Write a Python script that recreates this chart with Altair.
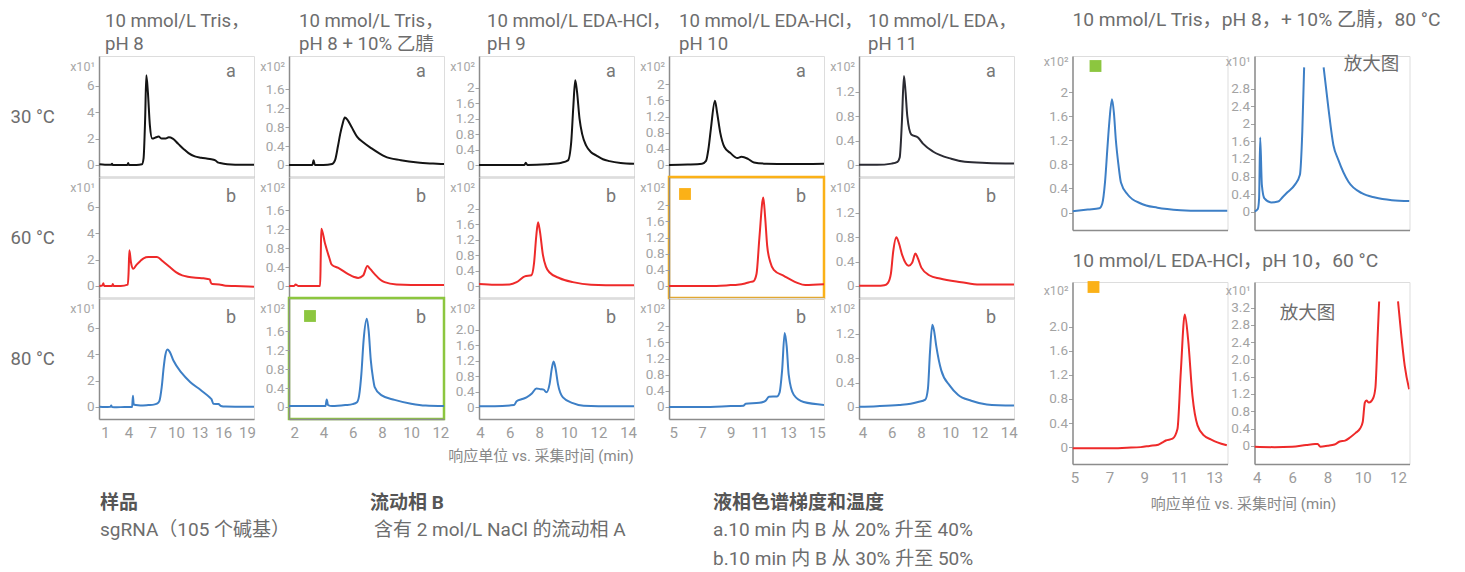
import altair as alt
import pandas as pd

FONT = "Roboto, 'Noto Sans CJK SC', sans-serif"
AX = "#8c8c8c"      # axis lines
LAB = "#a3a3a3"     # tick labels
X10C = "#a8a8a8"
TXT = "#6d6d6d"
ABC = "#777777"
BLACK = "#141414"
RED = "#ee2a2a"
BLUE = "#3d7fc6"
GREEN = "#8cc63f"
ORANGE = "#fbb117"

# ---------------- data (time in min, response in displayed axis units) -------------
# column 1: 10 mmol/L Tris, pH 8
T_C1R1 = [0.3, 1.0, 1.8, 1.9, 2.0, 3.0, 3.85, 3.95, 4.05, 5.0, 5.7, 5.9, 6.1, 6.25, 6.45, 6.7, 7.0, 7.5, 7.8, 8.2, 8.7, 9.1, 9.6, 10.3, 11.0, 11.6, 12.4, 13.2, 14.3, 15.0, 15.3, 15.6, 16.5, 17.5, 19.9]
V_C1R1 = [0.05, 0.02, 0.02, 0.1, 0.0, 0.0, 0.0, 0.15, 0.0, 0.0, 0.05, 0.5, 3.5, 6.8, 5.5, 3.0, 2.0, 2.1, 2.15, 2.0, 2.0, 2.1, 2.0, 1.6, 1.2, 0.9, 0.65, 0.55, 0.45, 0.35, 0.2, 0.15, 0.05, 0.02, 0.02]
T_C1R2 = [0.3, 0.7, 0.8, 0.9, 1.9, 2.0, 2.1, 3.0, 3.9, 4.0, 4.1, 4.3, 4.6, 5.0, 5.5, 5.9, 6.5, 7.0, 7.6, 8.3, 9.1, 10.0, 10.8, 11.5, 12.5, 13.5, 14.3, 14.4, 14.6, 15.5, 16.3, 17.5, 19.9]
V_C1R2 = [0.0, 0.05, 0.2, 0.0, 0.0, 0.15, 0.0, 0.0, 0.1, 1.0, 2.7, 1.8, 1.3, 1.6, 1.9, 2.1, 2.2, 2.2, 2.2, 1.9, 1.5, 1.05, 0.8, 0.7, 0.62, 0.58, 0.5, 0.3, 0.15, 0.12, 0.02, 0.0, -0.05]
T_C1R3 = [0.3, 1.0, 1.7, 1.8, 1.9, 2.5, 3.5, 4.45, 4.55, 4.65, 4.9, 5.5, 6.5, 7.2, 7.6, 7.9, 8.2, 8.45, 8.65, 8.93, 9.2, 9.7, 10.7, 11.8, 13.1, 14.3, 14.5, 14.75, 15.4, 15.7, 16.3, 17.5, 19.9]
V_C1R3 = [0.02, 0.0, 0.02, 0.12, 0.0, -0.02, 0.0, 0.0, 0.85, 0.2, 0.15, 0.12, 0.15, 0.18, 0.25, 0.45, 1.5, 3.0, 3.9, 4.35, 4.2, 3.5, 2.6, 1.9, 1.3, 0.72, 0.6, 0.25, 0.22, 0.08, 0.03, 0.02, 0.02]
# column 2: 10 mmol/L Tris, pH 8 + 10% ACN
T_C2R1 = [1.65, 2.5, 3.25, 3.33, 3.42, 4.0, 4.6, 4.8, 5.0, 5.15, 5.3, 5.47, 5.65, 5.93, 6.3, 6.72, 7.3, 7.8, 8.2, 9.3, 10.45, 11.5, 12.25]
V_C2R1 = [0.0, 0.0, 0.0, 0.1, 0.0, 0.0, 0.02, 0.1, 0.4, 0.65, 0.85, 1.0, 0.95, 0.8, 0.6, 0.48, 0.35, 0.25, 0.18, 0.1, 0.05, 0.03, 0.02]
T_C2R2 = [1.65, 2.0, 2.1, 2.3, 3.0, 3.78, 3.82, 3.86, 4.11, 4.4, 4.57, 5.02, 5.7, 6.1, 6.38, 6.72, 7.01, 7.2, 7.51, 7.9, 8.19, 9.0, 10.0, 12.25]
V_C2R2 = [0.0, 0.0, 0.03, 0.0, 0.0, 0.0, 0.6, 1.21, 0.9, 0.6, 0.45, 0.38, 0.25, 0.19, 0.17, 0.22, 0.42, 0.36, 0.25, 0.13, 0.08, 0.03, 0.02, 0.02]
T_C2R3 = [1.65, 3.0, 4.15, 4.23, 4.32, 4.6, 5.5, 6.0, 6.3, 6.45, 6.6, 6.75, 6.97, 7.1, 7.24, 7.4, 7.51, 7.96, 8.87, 10.0, 11.0, 12.25]
V_C2R3 = [0.02, 0.02, 0.02, 0.16, 0.04, 0.02, 0.04, 0.06, 0.1, 0.25, 0.7, 1.4, 1.86, 1.6, 1.0, 0.6, 0.42, 0.25, 0.15, 0.07, 0.03, 0.02]
# column 3: 10 mmol/L EDA-HCl, pH 9
T_C3R1 = [3.93, 5.0, 6.5, 7.0, 7.09, 7.2, 8.5, 9.5, 9.94, 10.16, 10.3, 10.43, 10.55, 10.72, 10.9, 11.17, 11.5, 11.84, 12.3, 12.74, 13.5, 14.4]
V_C3R1 = [0.0, 0.0, 0.0, 0.0, 0.06, 0.0, 0.02, 0.06, 0.12, 0.6, 1.5, 2.19, 1.9, 1.2, 0.8, 0.5, 0.33, 0.25, 0.15, 0.1, 0.05, 0.03]
T_C3R2 = [3.93, 5.0, 6.0, 6.47, 7.02, 7.47, 7.65, 7.8, 7.92, 8.05, 8.25, 8.45, 8.7, 9.38, 10.27, 11.5, 12.5, 14.4]
V_C3R2 = [0.05, 0.03, 0.04, 0.1, 0.25, 0.28, 0.6, 1.3, 1.65, 1.4, 0.8, 0.5, 0.35, 0.2, 0.1, 0.03, 0.02, 0.02]
T_C3R3 = [3.93, 5.0, 6.3, 6.47, 6.8, 7.14, 7.5, 7.81, 8.1, 8.3, 8.48, 8.7, 8.85, 8.97, 9.1, 9.26, 9.6, 10.27, 11.0, 12.0, 14.4]
V_C3R3 = [0.02, 0.02, 0.05, 0.15, 0.2, 0.25, 0.35, 0.48, 0.46, 0.45, 0.38, 0.6, 1.0, 1.18, 1.0, 0.6, 0.25, 0.1, 0.03, 0.02, 0.02]
# column 4: 10 mmol/L EDA-HCl, pH 10
T_C4R1 = [4.7, 6.0, 7.0, 7.28, 7.45, 7.62, 7.9, 8.05, 8.27, 8.55, 8.96, 9.47, 9.75, 10.2, 10.62, 11.5, 13.0, 15.5]
V_C4R1 = [0.0, 0.01, 0.03, 0.1, 0.4, 0.9, 1.59, 1.3, 0.8, 0.45, 0.3, 0.17, 0.2, 0.15, 0.06, 0.03, 0.02, 0.03]
T_C4R2 = [4.7, 6.0, 8.0, 9.0, 9.47, 10.0, 10.39, 10.6, 10.8, 11.0, 11.27, 11.4, 11.54, 11.75, 12.0, 12.7, 13.6, 14.2, 15.5]
V_C4R2 = [0.0, 0.0, 0.0, 0.02, 0.03, 0.06, 0.1, 0.12, 0.3, 1.2, 2.19, 1.7, 1.0, 0.6, 0.4, 0.25, 0.08, 0.02, 0.04]
T_C4R3 = [4.7, 7.0, 9.0, 9.9, 10.04, 11.0, 11.42, 11.66, 12.23, 12.4, 12.58, 12.76, 12.9, 13.04, 13.39, 14.08, 15.5]
V_C4R3 = [0.0, 0.0, 0.02, 0.03, 0.08, 0.1, 0.15, 0.25, 0.26, 0.35, 0.9, 1.83, 1.5, 0.8, 0.3, 0.12, 0.05]
# column 5: 10 mmol/L EDA, pH 11
T_C5R1 = [3.77, 5.0, 6.0, 6.4, 6.55, 6.7, 6.84, 6.95, 7.07, 7.34, 7.8, 8.14, 8.82, 10.07, 11.0, 12.5, 14.36]
V_C5R1 = [0.0, 0.0, 0.02, 0.05, 0.12, 0.7, 1.46, 1.2, 0.8, 0.5, 0.45, 0.35, 0.22, 0.1, 0.05, 0.03, 0.02]
T_C5R2 = [3.77, 5.0, 5.5, 5.75, 5.95, 6.1, 6.32, 6.5, 6.73, 7.16, 7.4, 7.62, 7.8, 8.03, 8.6, 9.3, 10.76, 12.0, 14.36]
V_C5R2 = [0.0, 0.0, 0.01, 0.05, 0.2, 0.55, 0.8, 0.7, 0.5, 0.33, 0.38, 0.53, 0.45, 0.3, 0.17, 0.12, 0.06, 0.02, 0.02]
T_C5R3 = [3.77, 5.0, 6.5, 7.3, 7.8, 8.3, 8.48, 8.62, 8.78, 8.9, 9.05, 9.39, 9.97, 10.53, 11.44, 12.5, 14.36]
V_C5R3 = [0.0, 0.01, 0.03, 0.05, 0.08, 0.12, 0.3, 0.9, 1.35, 1.25, 1.0, 0.6, 0.35, 0.2, 0.1, 0.04, 0.02]
# right block
T_R1 = [4.4, 5.43, 6.2, 6.4, 6.58, 6.75, 6.87, 7.05, 7.18, 7.31, 7.48, 7.65, 8.1, 8.98, 10.1, 11.65, 13.0, 14.8]
V_R1 = [0.02, 0.05, 0.07, 0.15, 0.5, 1.1, 1.5, 1.88, 1.65, 1.2, 0.8, 0.5, 0.3, 0.15, 0.08, 0.04, 0.03, 0.03]
T_R2A = [3.87, 4.05, 4.12, 4.18, 4.27, 4.41, 4.77, 5.15, 5.42, 5.66, 6.06, 6.34, 6.47, 6.57]
V_R2A = [0.0, 0.06, 0.3, 1.69, 0.61, 0.3, 0.21, 0.23, 0.34, 0.44, 0.61, 0.84, 1.83, 3.29]
T_R2B = [7.63, 7.89, 8.16, 8.43, 8.98, 9.71, 10.43, 11.34, 12.3]
V_R2B = [3.29, 2.36, 1.52, 1.18, 0.68, 0.42, 0.32, 0.26, 0.24]
T_R3 = [4.88, 6.0, 7.0, 8.0, 8.8, 9.3, 9.8, 10.05, 10.23, 10.62, 10.9, 11.09, 11.32, 11.51, 11.76, 12.05, 12.43, 12.81, 13.19, 13.73]
V_R3 = [-0.02, -0.02, -0.02, -0.01, 0.0, 0.02, 0.04, 0.08, 0.11, 0.14, 0.3, 1.24, 2.2, 1.79, 0.85, 0.36, 0.19, 0.13, 0.08, 0.03]
T_R4A = [3.87, 5.0, 6.0, 6.8, 7.3, 7.45, 7.6, 8.0, 8.4, 8.7, 9.0, 9.3, 9.6, 9.85, 10.0, 10.12, 10.21, 10.35, 10.59, 10.72, 10.84, 10.93]
V_R4A = [-0.02, -0.03, -0.02, 0.02, 0.04, 0.04, -0.02, 0.0, 0.03, 0.1, 0.12, 0.2, 0.3, 0.4, 0.55, 1.0, 1.05, 1.0, 1.1, 1.35, 2.47, 3.34]
T_R4B = [12.0, 12.19, 12.38, 12.63]
V_R4B = [3.34, 2.54, 1.85, 1.31]

# tick values
YT_C1 = [0, 2, 4, 6]
YT_C2 = [0, 0.4, 0.8, 1.2, 1.6]
YT_C34 = [0, 0.4, 0.8, 1.2, 1.6, 2]
YT_C5 = [0, 0.4, 0.8, 1.2]
YT_R2 = [0, 0.4, 0.8, 1.2, 1.6, 2, 2.4, 2.8]
YT_R4 = [0, 0.4, 0.8, 1.2, 1.6, 2, 2.4, 2.8, 3.2]
XT_C1 = [1, 4, 7, 10, 13, 16, 19]
XT_C2 = [2, 4, 6, 8, 10, 12]
XT_C3 = [4, 6, 8, 10, 12, 14]
XT_C4 = [5, 7, 9, 11, 13, 15]
XT_C5 = [4, 6, 8, 10, 12, 14]
XT_R3 = [5, 7, 9, 11, 13]
XT_R4 = [4, 6, 8, 10, 12]

COL_TITLES = [
    ["10 mmol/L Tris，", "pH 8"],
    ["10 mmol/L Tris，", "pH 8 + 10% 乙腈"],
    ["10 mmol/L EDA-HCl，", "pH 9"],
    ["10 mmol/L EDA-HCl，", "pH 10"],
    ["10 mmol/L EDA，", "pH 11"],
]
ROW_LABELS = ["30 °C", "60 °C", "80 °C"]


def txt(s, x, y, size, color, weight="normal", align="left", baseline="alphabetic"):
    return alt.Chart(alt.Data(values=[{"s": s}])).mark_text(
        align=align, baseline=baseline, fontSize=size, color=color,
        fontWeight=weight, font=FONT
    ).encode(x=alt.value(x), y=alt.value(y), text="s:N")


def sq(x, y, color):
    return alt.Chart(alt.Data(values=[{"s": 1}])).mark_square(
        size=140, color=color, opacity=1, filled=True
    ).encode(x=alt.value(x), y=alt.value(y))


def panel(T, V, color, xdom, ydom, yticks, xticks=None, w=155, h=121,
          extras=(), box=None, fmt1=False, seg=None):
    df = pd.DataFrame({"t": T, "v": V, "seg": seg if seg else [0] * len(T)})
    yax = dict(values=yticks, title=None, grid=False, labelFontSize=13.5,
               labelColor=LAB, tickSize=4, tickColor=LAB, labelPadding=1,
               domainColor=AX, domainWidth=1.5, labelOverlap=False, labelFont=FONT)
    if fmt1:
        yax["labelExpr"] = "datum.value == 0 ? '0' : format(datum.value, '.1f')"
    else:
        yax["format"] = "~g"
    if xticks:
        xax = dict(values=xticks, title=None, grid=False, ticks=False, labelPadding=6,
                   labelFontSize=15, labelColor="#9c9c9c", labelFlush=False,
                   labelOverlap=False, domainColor=AX, domainWidth=1.5,
                   format="d", labelFont=FONT)
    else:
        xax = dict(labels=False, ticks=False, title=None, grid=False,
                   domainColor=AX, domainWidth=1.5)
    line = alt.Chart(df).mark_line(
        color=color, strokeWidth=2, interpolate="monotone", clip=True
    ).encode(
        x=alt.X("t:Q", scale=alt.Scale(domain=xdom, nice=False, zero=False), axis=alt.Axis(**xax)),
        y=alt.Y("v:Q", scale=alt.Scale(domain=ydom, nice=False, zero=False), axis=alt.Axis(**yax)),
        detail="seg:N",
    )
    props = dict(width=w, height=h)
    if box:
        props["view"] = alt.ViewBackground(stroke=box, strokeWidth=2.5)
    return alt.layer(line, *extras).properties(**props)


XDOMS = [[0.25, 19.9], [1.65, 12.25], [3.93, 14.4], [4.7, 15.5], [3.77, 14.36]]
YDOMS = [[-0.91, 8.26], [-0.254, 2.3], [-0.31, 2.82], [-0.3, 2.7], [-0.2, 1.79]]
YTICKS = [YT_C1, YT_C2, YT_C34, YT_C34, YT_C5]
XTICKS = [XT_C1, XT_C2, XT_C3, XT_C4, XT_C5]
X10 = ["x10¹", "x10²", "x10²", "x10²", "x10²"]
TITLE_DX = [6, 10, 8, 10, 9]
DATA = [
    [(T_C1R1, V_C1R1), (T_C1R2, V_C1R2), (T_C1R3, V_C1R3)],
    [(T_C2R1, V_C2R1), (T_C2R2, V_C2R2), (T_C2R3, V_C2R3)],
    [(T_C3R1, V_C3R1), (T_C3R2, V_C3R2), (T_C3R3, V_C3R3)],
    [(T_C4R1, V_C4R1), (T_C4R2, V_C4R2), (T_C4R3, V_C4R3)],
    [(T_C5R1, V_C5R1), (T_C5R2, V_C5R2), (T_C5R3, V_C5R3)],
]
ROW_COLORS = [BLACK, RED, BLUE]
BOT = 19
TS = 18.6   # column title size
RS = 19.2   # right-block title size

columns = []
for c in range(5):
    rows = []
    for r in range(3):
        T, V = DATA[c][r]
        color = ROW_COLORS[r]
        if c == 4 and r == 0:
            color = "#2b2b33"
        extras = [
            txt(X10[c], -4, 11, 12.5, X10C, align="right", baseline="middle"),
            txt("a" if r == 0 else "b", 132, 16 if r == 0 else 20, 18, ABC,
                align="center", baseline="middle"),
        ]
        if r == 0:
            extras.append(txt(COL_TITLES[c][0], TITLE_DX[c], -29, TS, TXT))
            extras.append(txt(COL_TITLES[c][1], TITLE_DX[c], -6, TS, TXT))
        if c == 0:
            extras.append(txt(ROW_LABELS[r], -88.5, 61, 18.5, TXT, baseline="middle"))
        box = None
        if c == 1 and r == 2:
            box = GREEN
            extras.append(sq(21, 18, GREEN))
        if c == 3 and r == 1:
            box = ORANGE
            extras.append(sq(16, 17, ORANGE))
        if c == 2 and r == 2:
            extras.append(txt("响应单位 vs. 采集时间 (min)", 62, 158, 15, "#888888",
                              align="center", baseline="middle"))
        if c == 0 and r == 2:
            extras += [
                txt("样品", 1, 205, BOT, "#555555", weight="bold", baseline="middle"),
                txt("sgRNA（105 个碱基）", 1, 232, BOT, TXT, baseline="middle"),
                txt("流动相 B", 271, 205, BOT, "#555555", weight="bold", baseline="middle"),
                txt("含有 2 mol/L NaCl 的流动相 A", 275, 232, BOT, TXT, baseline="middle"),
                txt("液相色谱梯度和温度", 614, 205, BOT, "#555555", weight="bold", baseline="middle"),
                txt("a.10 min 内 B 从 20% 升至 40%", 614, 232, BOT, TXT, baseline="middle"),
                txt("b.10 min 内 B 从 30% 升至 50%", 614, 261, BOT, TXT, baseline="middle"),
            ]
        rows.append(panel(T, V, color, XDOMS[c], YDOMS[c], YTICKS[c],
                          xticks=XTICKS[c] if r == 2 else None,
                          extras=extras, box=box, fmt1=(c == 2 and r == 2)))
    columns.append(alt.vconcat(*rows, spacing=0, bounds="flush"))

# with flush bounds, nested concat groups count as zero-size, so the spacing is the step
left = alt.hconcat(*columns, spacing=190, bounds="flush")

R1 = panel(T_R1, V_R1, BLUE, [4.4, 14.8], [-0.29, 2.6], YT_C34, h=174, extras=[
    txt("x10²", -4, 6, 12.5, X10C, align="right", baseline="middle"),
    sq(23, 10, GREEN),
    txt("10 mmol/L Tris，pH 8，+ 10% 乙腈，80 °C", 0, -30, RS, TXT),
])
R2 = panel(T_R2A + T_R2B, V_R2A + V_R2B, BLUE, [3.87, 12.3], [-0.42, 3.55], YT_R2, h=174,
           seg=[0] * len(T_R2A) + [1] * len(T_R2B), extras=[
    txt("x10¹", -4, 6, 12.5, X10C, align="right", baseline="middle"),
    txt("放大图", 117, 8, 18.5, TXT, align="center", baseline="middle"),
])
R3 = panel(T_R3, V_R3, RED, [4.88, 13.77], [-0.28, 2.74], YT_C34, xticks=XT_R3, h=182,
           fmt1=True, extras=[
    txt("x10²", -4, 9, 12.5, X10C, align="right", baseline="middle"),
    sq(21, 5, ORANGE),
    txt("10 mmol/L EDA-HCl，pH 10，60 °C", 0, -15, RS, TXT),
    txt("响应单位 vs. 采集时间 (min)", 171, 222, 15, "#888888", align="center", baseline="middle"),
])
R4 = panel(T_R4A + T_R4B, V_R4A + V_R4B, RED, [3.87, 12.65], [-0.42, 3.79], YT_R4, xticks=XT_R4,
           h=182, fmt1=True, seg=[0] * len(T_R4A) + [1] * len(T_R4B), extras=[
    txt("x10¹", -4, 9, 12.5, X10C, align="right", baseline="middle"),
    txt("放大图", 53, 31, 18.5, TXT, align="center", baseline="middle"),
])

right = alt.vconcat(
    alt.hconcat(R1, R2, spacing=27, bounds="flush"),
    alt.hconcat(R3, R4, spacing=27, bounds="flush"),
    spacing=226, bounds="flush",
)

chart = alt.hconcat(left, right, spacing=973.5, bounds="flush").properties(
    padding={"left": 2, "top": 2, "right": 0, "bottom": 0}
).configure_view(strokeWidth=0).configure(font=FONT)

chart.save("out.html", embed_options={"renderer": "svg", "actions": False})
